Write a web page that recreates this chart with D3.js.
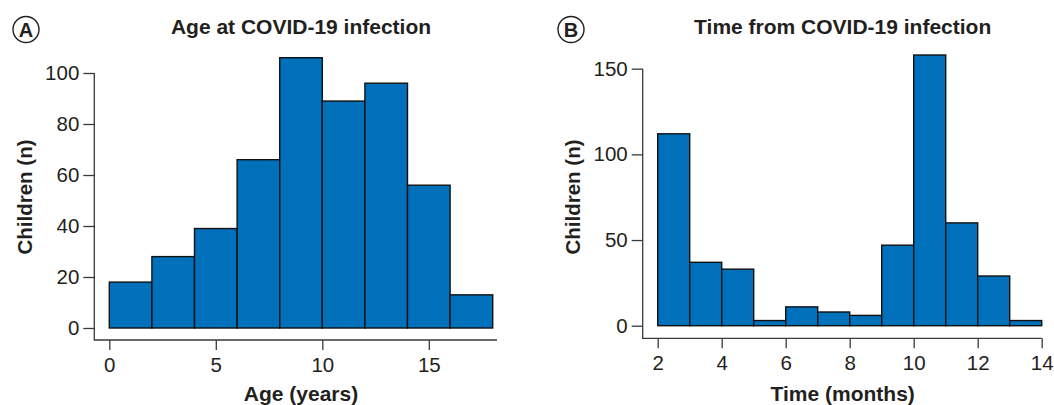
<!DOCTYPE html>
<html>
<head>
<meta charset="utf-8">
<script src="https://cdn.jsdelivr.net/npm/d3@7"></script>
<style>
  body { margin: 0; background: #fff; }
  text { font-family: "Liberation Sans", Arial, Helvetica, sans-serif; fill: #231f20; }
</style>
</head>
<body>
<svg id="chart" width="1054" height="405"></svg>
<script>
// panel A: age at infection, 2-year bins
const ageBreaks = [0, 2, 4, 6, 8, 10, 12, 14, 16, 18];
const ageCounts = [18, 28, 39, 66, 106, 89, 96, 56, 13];
const ageTicksX = [0, 5, 10, 15];
const ageTicksY = [0, 20, 40, 60, 80, 100];

// panel B: time from infection, 1-month bins
const timeBreaks = [2, 3, 4, 5, 6, 7, 8, 9, 10, 11, 12, 13, 14];
const timeCounts = [112, 37, 33, 3, 11, 8, 6, 47, 158, 60, 29, 3];
const timeTicksX = [2, 4, 6, 8, 10, 12, 14];
const timeTicksY = [0, 50, 100, 150];

const svg = d3.select("#chart");

function hist(opts) {
  const g = svg.append("g");
  const x = d3.scaleLinear().domain(opts.xDomain).range(opts.xRange);
  const y = d3.scaleLinear().domain(opts.yDomain).range(opts.yRange);

  const bins = opts.counts.map((c, i) => ({x0: opts.breaks[i], x1: opts.breaks[i + 1], n: c}));

  g.selectAll("rect.bar")
    .data(bins)
    .join("rect")
      .attr("class", "bar")
      .attr("x", d => x(d.x0))
      .attr("y", d => y(d.n))
      .attr("width", d => x(d.x1) - x(d.x0))
      .attr("height", d => y(0) - y(d.n))
      .attr("fill", "#0070ba")
      .attr("stroke", "#111")
      .attr("stroke-width", 1.4);

  // offset L-shaped axis lines (R style)
  const axY = opts.axisY, axX = opts.axisX;
  g.append("path")
    .attr("d", `M${axX},${y(opts.ticksY[opts.ticksY.length - 1])}V${axY}H${x(opts.xLineEnd)}`)
    .attr("fill", "none")
    .attr("stroke", "#3a3a3a")
    .attr("stroke-width", 1.3);

  const yAxis = g.append("g")
    .attr("transform", `translate(${axX},0)`)
    .call(d3.axisLeft(y).tickValues(opts.ticksY).tickSize(11).tickPadding(4));
  const xAxis = g.append("g")
    .attr("transform", `translate(0,${axY})`)
    .call(d3.axisBottom(x).tickValues(opts.ticksX).tickSize(10).tickPadding(7));

  [yAxis, xAxis].forEach(a => {
    a.select(".domain").remove();
    a.selectAll("line").attr("stroke", "#3a3a3a").attr("stroke-width", 1.3);
    a.selectAll("text").attr("font-size", 20.5).attr("fill", "#231f20")
      .style("font-family", "'Liberation Sans', Arial, sans-serif");
  });

  const cx = (opts.xRange[0] + opts.xRange[1]) / 2 + opts.titleShift;
  g.append("text")
    .attr("x", cx).attr("y", 34)
    .attr("text-anchor", "middle")
    .attr("font-size", 21).attr("font-weight", "bold")
    .text(opts.title);

  g.append("text")
    .attr("x", cx).attr("y", 401)
    .attr("text-anchor", "middle")
    .attr("font-size", 21).attr("font-weight", "bold")
    .text(opts.xTitle);

  g.append("text")
    .attr("transform", `translate(${opts.yTitleX},197) rotate(-90)`)
    .attr("text-anchor", "middle")
    .attr("font-size", 20.5).attr("font-weight", "bold")
    .text("Children (n)");

  // panel letter
  g.append("circle")
    .attr("cx", opts.letterX).attr("cy", 29.5).attr("r", 13)
    .attr("fill", "none").attr("stroke", "#231f20").attr("stroke-width", 1.4);
  g.append("text")
    .attr("x", opts.letterX).attr("y", 36.8)
    .attr("text-anchor", "middle")
    .attr("font-size", 20).attr("font-weight", "bold")
    .text(opts.letter);
}

hist({
  breaks: ageBreaks, counts: ageCounts,
  ticksX: ageTicksX, ticksY: ageTicksY,
  xDomain: [0, 18], xRange: [109.3, 492.7],
  yDomain: [0, 100], yRange: [328, 73],
  axisX: 94.3, axisY: 340, xLineEnd: 18.2,
  title: "Age at COVID-19 infection", xTitle: "Age (years)",
  titleShift: 0, yTitleX: 32, letter: "A", letterX: 26
});

hist({
  breaks: timeBreaks, counts: timeCounts,
  ticksX: timeTicksX, ticksY: timeTicksY,
  xDomain: [2, 14], xRange: [657.7, 1041.7],
  yDomain: [0, 150], yRange: [325.7, 68.7],
  axisX: 642.7, axisY: 338.3, xLineEnd: 14,
  title: "Time from COVID-19 infection", xTitle: "Time (months)",
  titleShift: -7, yTitleX: 580, letter: "B", letterX: 571
});
</script>
</body>
</html>
